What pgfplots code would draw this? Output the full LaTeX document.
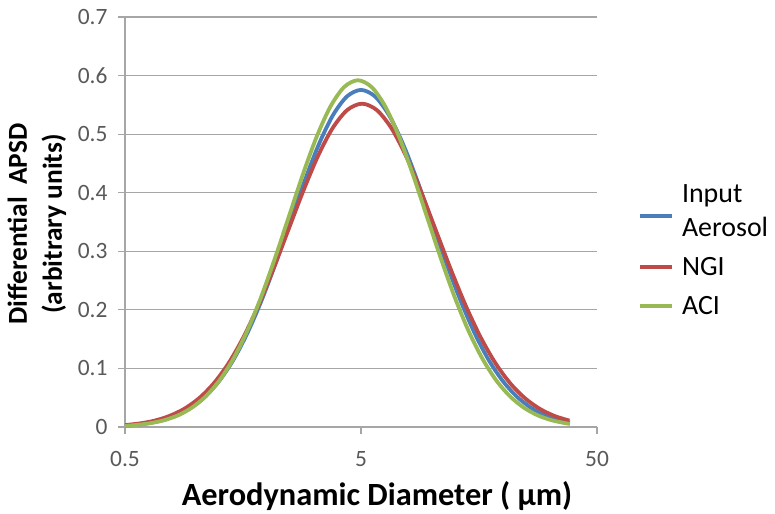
\documentclass[border=0pt]{standalone}
\usepackage{pgfplots}
\pgfplotsset{compat=1.18}
\usepackage{fontspec}
\setmainfont{Carlito}
\definecolor{serblue}{HTML}{4A7EBB}
\definecolor{serred}{HTML}{BE4B48}
\definecolor{sergreen}{HTML}{98B954}
\definecolor{gridgray}{HTML}{A6A6A6}
\definecolor{ticktext}{HTML}{595959}
% legend line for a two-line entry, lowered to the second line
\pgfplotsset{lowered legend line/.style={legend image code/.code={\draw[##1] (0bp,-7bp) -- (32bp,-7bp);}}}
\begin{document}
\begin{tikzpicture}
\path[use as bounding box] (-125bp,-87bp) rectangle (650bp,427bp);
\begin{axis}[
  scale only axis,
  width=472bp, height=410bp,
  xmode=log,
  xmin=0.5, xmax=50,
  ymin=0, ymax=0.7,
  xtick={0.5,5,50},
  xticklabels={0.5,5,50},
  xminorticks=false,
  ytick={0,0.1,0.2,0.3,0.4,0.5,0.6,0.7},
  yticklabel style={/pgf/number format/fixed,/pgf/number format/precision=1, xshift=-7bp},
  xticklabel style={yshift=-14bp},
  /pgf/number format/assume math mode=true,
  axis x line=bottom, axis y line=left,
  axis line style={gridgray, line width=1.2bp, -},
  tick style={gridgray, line width=1.2bp},
  major tick length=7bp,
  tick align=outside,
  ymajorgrids,
  major grid style={gridgray, line width=1.2bp},
  ticklabel style={font=\fontsize{23.5}{27}\selectfont, text=ticktext},
  legend style={at={(rel axis cs:1.087,0.61)}, anchor=north west,
    draw=none, fill=none, inner sep=0pt, row sep=15bp, column sep=6bp,
    font=\fontsize{28}{33}\selectfont},
  legend cell align=left,
  legend image code/.code={\draw[#1] (0bp,0bp) -- (32bp,0bp);},
  every axis plot/.append style={line width=3.8bp, smooth, no markers},
]
\addplot[serblue, lowered legend line] coordinates {
(0.5,0.0023) (0.544,0.0034) (0.625,0.0064) (0.718,0.0114) (0.825,0.0196)
(0.947,0.0323) (1.088,0.0512) (1.25,0.0779) (1.436,0.1139) (1.649,0.1600)
(1.895,0.2160) (2.176,0.2802) (2.5,0.3490) (2.872,0.4179) (3.299,0.4807)
(3.789,0.5312) (4.353,0.5641) (5,0.5755) (5.743,0.5641) (6.598,0.5312)
(7.579,0.4807) (8.706,0.4179) (10,0.3490) (11.49,0.2802) (13.20,0.2160)
(15.16,0.1600) (17.41,0.1139) (20,0.0779) (22.97,0.0512) (26.39,0.0323)
(30.31,0.0196) (34.82,0.0114) (38.4,0.0077)
};
\addlegendentry{\begin{tabular}[b]{@{}l@{}}Input\\[2bp]Aerosol\end{tabular}}
\addplot[serred] coordinates {
(0.500,0.0033) (0.578,0.0061) (0.668,0.0109) (0.771,0.0188) (0.891,0.0310)
(1.030,0.0491) (1.190,0.0747) (1.375,0.1092) (1.589,0.1535) (1.836,0.2072)
(2.122,0.2687) (2.452,0.3348) (2.833,0.4008) (3.273,0.4611) (3.782,0.5096)
(4.370,0.5411) (5.05,0.552) (5.835,0.5411) (6.743,0.5096) (7.791,0.4611)
(9.003,0.4008) (10.40,0.3348) (12.02,0.2687) (13.89,0.2072) (16.05,0.1535)
(18.55,0.1092) (21.43,0.0747) (24.76,0.0491) (28.61,0.0310) (33.06,0.0188)
(38.20,0.0109)
};
\addlegendentry{NGI}
\addplot[sergreen] coordinates {
(0.5,0.0020) (0.561,0.0035) (0.642,0.0066) (0.735,0.0117) (0.841,0.0201)
(0.962,0.0332) (1.101,0.0526) (1.260,0.0801) (1.442,0.1172) (1.650,0.1646)
(1.888,0.2222) (2.160,0.2882) (2.472,0.3590) (2.828,0.4299) (3.237,0.4945)
(3.704,0.5465) (4.238,0.5803) (4.85,0.592) (5.550,0.5803) (6.351,0.5465)
(7.267,0.4945) (8.316,0.4299) (9.516,0.3590) (10.89,0.2882) (12.46,0.2222)
(14.26,0.1646) (16.32,0.1172) (18.67,0.0801) (21.37,0.0526) (24.45,0.0332)
(27.98,0.0201) (32.01,0.0117) (36.63,0.0066) (38.4,0.0053)
};
\addlegendentry{ACI}
\end{axis}
\node[anchor=base, font=\bfseries\fontsize{32.5}{36}\selectfont] at (252bp,-78bp) {Aerodynamic Diameter ( µm)};
\node[anchor=base, rotate=90, font=\bfseries\fontsize{27.5}{32}\selectfont] at (-98bp,203bp) {Differential\ \ APSD};
\node[anchor=base, rotate=90, font=\bfseries\fontsize{27.5}{32}\selectfont] at (-63bp,203bp) {(arbitrary units)};
\end{tikzpicture}
\end{document}
